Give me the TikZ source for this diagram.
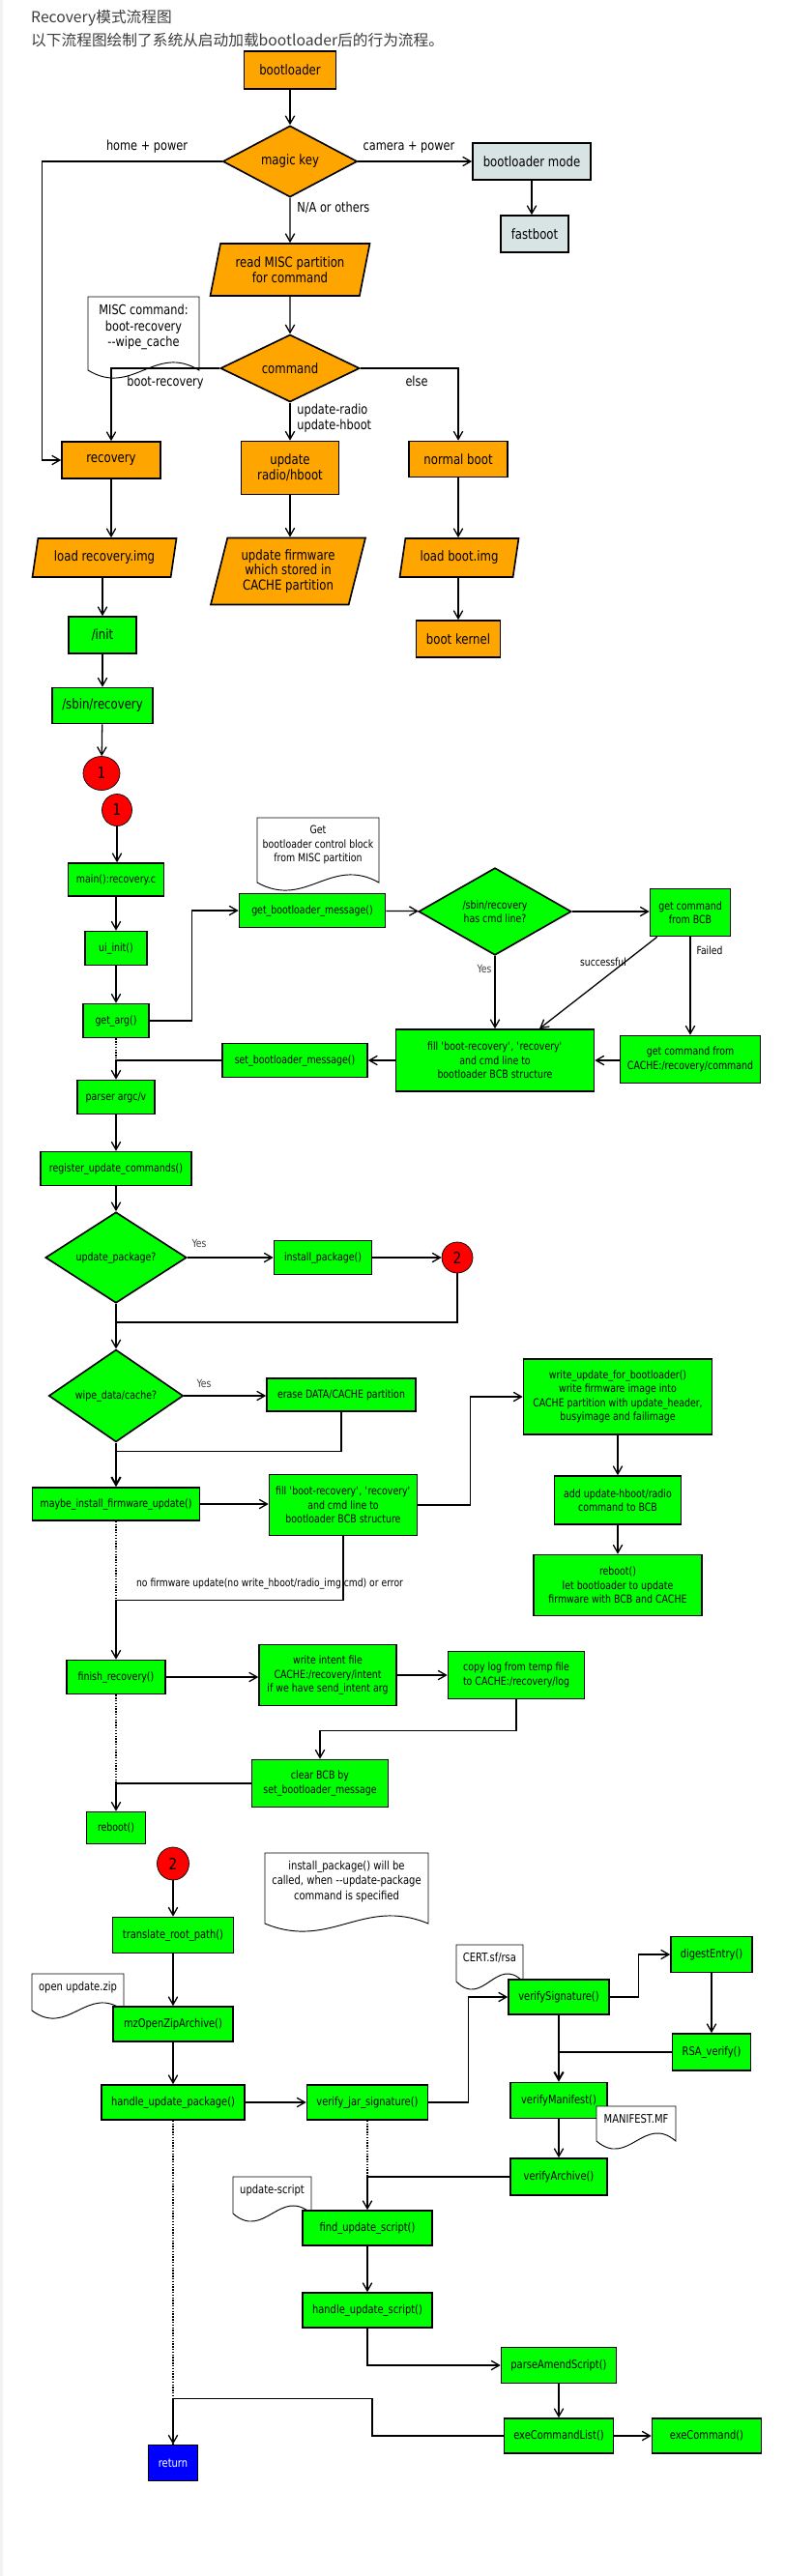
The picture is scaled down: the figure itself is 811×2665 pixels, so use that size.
\documentclass[tikz,border=0pt]{standalone}
\usepackage{fontspec}
\setmainfont{DejaVu Sans}[FakeStretch=0.82]
\newfontfamily\cjkfont{Noto Sans CJK SC}
\usetikzlibrary{arrows.meta,positioning,calc,shapes.geometric}
\definecolor{stepOrange}{HTML}{FFA500}
\definecolor{stepGreen}{HTML}{00FF00}
\definecolor{modeGray}{HTML}{D8E4E4}
\definecolor{endBlue}{HTML}{0000FF}
\definecolor{jumpRed}{HTML}{FF0000}
\definecolor{headGray}{HTML}{3C3C3C}

% straight single quotes
\newcommand{\sq}[1]{\textquotesingle#1\textquotesingle}
% note sheet with a wavy lower edge: [text style], name, left x, top y, width, height, text
\newcommand{\docnote}[7][]{%
  \filldraw[notebox] (#3,#4) -- ({#3+#5},#4) -- ({#3+#5},{#4+#6})
    .. controls ({#3+0.6*#5},{#4+#6-28}) and ({#3+0.4*#5},{#4+#6+28}) .. (#3,{#4+#6}) -- cycle;
  \node[notetext,#1] (#2) at ({#3+#5/2},{#4+7}) {#7};
}

\begin{document}
\begin{tikzpicture}[
    x=0.03cm, y=-0.03cm,
    >={Straight Barb[length=7pt,width=8pt]},
    wh/.style 2 args={minimum width={#1*0.03cm}, minimum height={#2*0.03cm}},
    box/.style={draw, line width=1.4pt, inner sep=1pt, align=center},
    obox/.style={box, fill=stepOrange, font=\fontsize{12.2}{13.4}\selectfont},
    mbox/.style={box, fill=modeGray, font=\fontsize{12.2}{13.4}\selectfont},
    gbox/.style={box, fill=stepGreen, font=\fontsize{9.8}{12.3}\selectfont},
    gboxL/.style={gbox, font=\fontsize{12.2}{13.4}\selectfont},
    gboxM/.style={gbox, font=\fontsize{10.3}{12.3}\selectfont},
    rbox/.style={box, fill=endBlue, text=white, font=\fontsize{10.3}{12.3}\selectfont},
    para/.style={trapezium, trapezium left angle=70, trapezium right angle=110,
                 trapezium stretches body},
    decide/.style={diamond, inner sep=0pt},
    jump/.style={ellipse, draw, line width=0.6pt, fill=jumpRed, inner sep=0pt,
                 font=\fontsize{14}{14}\selectfont},
    conn/.style={line width=1.1pt},
    arr/.style={conn,->},
    thickarr/.style={line width=1.7pt,->},
    dotline/.style={line width=0.9pt, dash pattern=on 1.2pt off 1.2pt},
    lblA/.style={inner sep=1pt, font=\fontsize{11.8}{13.6}\selectfont},
    lblB/.style={inner sep=1pt, font=\fontsize{9.6}{11.5}\selectfont},
    notebox/.style={draw, fill=white, line width=0.8pt},
    notetext/.style={anchor=north, inner sep=1pt, align=center,
                     font=\fontsize{9.8}{12.3}\selectfont},
    notebig/.style={font=\fontsize{11.8}{14}\selectfont},
    notemid/.style={font=\fontsize{10.4}{13}\selectfont},
    headtext/.style={anchor=west, inner sep=0pt, text=headGray,
                     font=\cjkfont\fontsize{13.4}{15}\selectfont},
]
\useasboundingbox (0,0) rectangle (811,2665);
\fill[gray!10] (0,0) rectangle (3,2665);

%-----------------------------------------------------------------------
% heading
\node[headtext] (title) at (32,18.5) {Recovery模式流程图};
\node[headtext] (subtitle) at (32,42) {以下流程图绘制了系统从启动加载bootloader后的行为流程。};

%-----------------------------------------------------------------------
% notes (drawn first, boxes sit on top)
\docnote[notebig]{nMisc}{91}{307}{115}{76}{MISC command:\\boot-recovery\\-{}-wipe\_cache}
\docnote{nBcb}{266}{846}{126}{67}{Get\\bootloader control block\\from MISC partition}
\docnote[notemid]{nInst}{274}{1917}{169}{73}{install\_package() will be\\called, when -{}-update-package\\command is specified}
\docnote[notemid]{nZip}{33}{2042}{95}{38}{open update.zip}
\docnote[notemid]{nCert}{472}{2012}{69}{38}{CERT.sf/rsa}
\docnote[notemid]{nScript}{241}{2252}{81}{38}{update-script}

%-----------------------------------------------------------------------
% bootloader part
\node[obox, wh={95}{39}] (boot) at (300,72.5) {bootloader};
\node[obox, decide, wh={139}{69}] (magic) at (300,167) {magic key};
\node[mbox, wh={122}{38}] (bmode) at (550,167) {bootloader mode};
\node[mbox, wh={70}{38}] (fastb) at (553,242) {fastboot};
\node[obox, para, wh={165}{54}] (readmisc) at (300,279) {read MISC partition\\for command};
\node[obox, decide, wh={144}{64}] (cmd) at (300,381) {command};
\node[obox, wh={102}{38}] (recov) at (115,476) {recovery};
\node[obox, wh={101}{55}] (radio) at (300,484) {update\\radio/hboot};
\node[obox, wh={102}{37}] (nboot) at (474,475) {normal boot};
\node[obox, para, wh={149}{40}] (loadrec) at (108,577) {load recovery.img};
\node[obox, para, wh={160}{69}] (upfw) at (298,591) {update firmware\\which stored in\\CACHE partition};
\node[obox, para, wh={123}{40}] (loadboot) at (475,577) {load boot.img};
\node[gboxL, wh={70}{38}] (init) at (106,657) {/init};
\node[obox, wh={87}{38}] (bkernel) at (474,661) {boot kernel};
\node[gboxL, wh={104}{37}] (sbin) at (106,730) {/sbin/recovery};
\node[jump, wh={38}{35}] (jmpA) at (105,800) {1};
\node[jump, wh={31}{33}] (jmpB) at (121,838) {1};

% labels
\node[lblA] (lHome) at (152,152) {home + power};
\node[lblA] (lCam) at (423,153) {camera + power};
\node[lblA, anchor=west] (lNA) at (306,215) {N/A or others};
\node[lblA] (lBootRec) at (171,396) {boot-recovery};
\node[lblA] (lElse) at (431,394) {else};
\node[lblA, anchor=west, align=left] (lRadio) at (306,433) {update-radio\\update-hboot};

%-----------------------------------------------------------------------
% recovery main()
\node[gbox, wh={99}{34}] (mainrc) at (120,910) {main():recovery.c};
\node[gbox, wh={64}{35}] (uiinit) at (120,981) {ui\_init()};
\node[gbox, wh={68}{35}] (getarg) at (120,1056) {get\_arg()};
\node[gbox, wh={151}{35}] (gbm) at (323,942) {get\_bootloader\_message()};
\node[gbox, decide, wh={158}{90}] (hascmd) at (512,943) {/sbin/recovery\\has cmd line?};
\node[gbox, wh={83}{49}] (bcb) at (714,944) {get command\\from BCB};
\node[gbox, wh={205}{64}] (fillA) at (512,1097) {fill \sq{boot-recovery}, \sq{recovery}\\and cmd line to\\bootloader BCB structure};
\node[gbox, wh={145}{49}] (cachecmd) at (714,1096) {get command from\\CACHE:/recovery/command};
\node[gbox, wh={150}{35}] (sbm) at (305,1097) {set\_bootloader\_message()};
\node[gbox, wh={80}{35}] (parser) at (120,1135) {parser argc/v};
\node[gbox, wh={156}{35}] (regcmd) at (120,1209) {register\_update\_commands()};
\node[gbox, decide, wh={146}{82}] (uppkg) at (120,1301) {update\_package?};
\node[gbox, wh={101}{35}] (instpkg) at (334,1301) {install\_package()};
\node[jump, wh={32}{32}] (jmpC) at (473,1301) {2};
\node[gbox, decide, wh={139}{92}] (wipe) at (120,1444) {wipe\_data/cache?};
\node[gbox, wh={154}{34}] (erase) at (353,1443) {erase DATA/CACHE partition};
\node[gbox, wh={195}{78}] (writeupd) at (639,1445) {write\_update\_for\_bootloader()\\write firmware image into\\CACHE partition with update\_header,\\busyimage and failimage};
\node[gbox, wh={173}{34}] (maybefw) at (120,1556) {maybe\_install\_firmware\_update()};
\node[gbox, wh={153}{63}] (fillB) at (355,1557) {fill \sq{boot-recovery}, \sq{recovery}\\and cmd line to\\bootloader BCB structure};
\node[gbox, wh={131}{50}] (addcmd) at (639,1552) {add update-hboot/radio\\command to BCB};
\node[gbox, wh={174}{63}] (rebootbl) at (639,1640) {reboot()\\let bootloader to update\\firmware with BCB and CACHE};
\node[gbox, wh={102}{35}] (finish) at (120,1735) {finish\_recovery()};
\node[gbox, wh={142}{63}] (intent) at (339,1733) {write intent file\\CACHE:/recovery/intent\\if we have send\_intent arg};
\node[gbox, wh={141}{49}] (copylog) at (534,1733) {copy log from temp file\\to CACHE:/recovery/log};
\node[gbox, wh={141}{49}] (clearbcb) at (331,1845) {clear BCB by\\set\_bootloader\_message};
\node[gbox, wh={61}{33}] (rbt) at (120,1891) {reboot()};

% labels
\node[lblB, text=black!75] (lYesA) at (501,1002) {Yes};
\node[lblB] (lSucc) at (624,995) {successful};
\node[lblB] (lFail) at (734,983) {Failed};
\node[lblB, text=black!75] (lYesB) at (206,1286) {Yes};
\node[lblB, text=black!75] (lYesC) at (211,1431) {Yes};
\node[lblB] (lNoFw) at (279,1639) {no firmware update(no write\_hboot/radio\_img cmd) or error};

%-----------------------------------------------------------------------
% install_package()
\node[jump, wh={33}{34}] (jmpD) at (179,1928) {2};
\node[gboxM, wh={125}{37}] (trans) at (179,2002) {translate\_root\_path()};
\node[gboxM, wh={124}{36}] (mzopen) at (179,2094) {mzOpenZipArchive()};
\node[gboxM, wh={148}{36}] (hup) at (179,2175) {handle\_update\_package()};
\node[gboxM, wh={125}{36}] (vjar) at (380,2175) {verify\_jar\_signature()};
\node[gboxM, wh={104}{36}] (vsig) at (578,2066) {verifySignature()};
\node[gboxM, wh={84}{37}] (digest) at (736,2022) {digestEntry()};
\node[gboxM, wh={81}{38}] (rsa) at (736,2123) {RSA\_verify()};
\node[gboxM, wh={100}{37}] (vman) at (578,2173) {verifyManifest()};
\docnote[notemid]{nManif}{617}{2179}{82}{36}{MANIFEST.MF}
\node[gboxM, wh={100}{38}] (varch) at (578,2252) {verifyArchive()};
\node[gboxM, wh={134}{36}] (findscr) at (380,2305) {find\_update\_script()};
\node[gboxM, wh={134}{36}] (hscr) at (380,2390) {handle\_update\_script()};
\node[gboxM, wh={119}{37}] (parse) at (578,2447) {parseAmendScript()};
\node[gboxM, wh={113}{36}] (exelist) at (578,2520) {exeCommandList()};
\node[gboxM, wh={113}{36}] (execmd) at (731,2520) {exeCommand()};
\node[rbox, wh={51}{37}] (ret) at (179,2548) {return};

%-----------------------------------------------------------------------
% connectors: bootloader part
\draw[arr] (boot) -- (magic);
\draw[arr] (magic.west) -| ($(recov.west)+(-20,0)$) -- (recov.west);
\draw[arr] (magic.east) -- (bmode.west);
\draw[arr] (bmode.south) -- (bmode.south |- fastb.north);
\draw[arr] (magic) -- (readmisc);
\draw[arr] (readmisc) -- (cmd);
\draw[arr] (cmd.west) -| (recov.north);
\draw[arr] (cmd.east) -| (nboot.north);
\draw[arr] (cmd) -- (radio);
\draw[arr] (recov.south) -- (recov.south |- loadrec.north);
\draw[arr] (init.north |- loadrec.south) -- (init.north);
\draw[arr] (radio.south) -- (radio.south |- upfw.north);
\draw[arr] (nboot.south) -- (nboot.south |- loadboot.north);
\draw[arr] (nboot.south |- loadboot.south) -- (bkernel.north);
\draw[arr] (init) -- (sbin);
\draw[arr] (sbin) -- (jmpA);

% connectors: recovery main()
\draw[arr] (jmpB.south) -- (jmpB.south |- mainrc.north);
\draw[arr] (mainrc) -- (uiinit);
\draw[arr] (uiinit) -- (getarg);
\draw[arr] (getarg.east) -| ($(gbm.west)+(-48,0)$) -- (gbm.west);
\draw[arr] (gbm) -- (hascmd);
\draw[arr] (hascmd.east) -- (hascmd.east -| bcb.west);
\draw[arr] (hascmd.south) -- (hascmd.south |- fillA.north);
\draw[arr] ($(bcb.south west)+(8,0)$) -- ($(fillA.north)+(46,0)$);
\draw[arr] (bcb.south) -- (bcb.south |- cachecmd.north);
\draw[arr] (cachecmd.west |- fillA.east) -- (fillA.east);
\draw[arr] (fillA.west) -- (fillA.west -| sbm.east);
\draw[arr] (sbm.west) -| (parser.north);
\draw[dotline] (getarg.south) -- (getarg.south |- sbm.west);
\draw[arr] (parser) -- (regcmd);
\draw[arr] (regcmd) -- (uppkg);
\draw[arr] (uppkg.east) -- (instpkg.west);
\draw[arr] (instpkg.east) -- (jmpC.west);
\coordinate (joinC) at ($(uppkg.south)+(0,19)$);
\draw[conn] (jmpC.south) |- (joinC);
\draw[conn] (uppkg.south) -- ($(uppkg.south)+(0,31)$);
\draw[arr] ($(wipe.north)+(0,-20)$) -- (wipe.north);
\draw[arr] (wipe.east) -- (wipe.east -| erase.west);
\draw[conn] (erase.south) |- ($(wipe.south)+(0,9)$);
\draw[thickarr] (wipe.south) -- (maybefw.north);
\draw[arr] (maybefw.east) -- (maybefw.east -| fillB.west);
\draw[arr] (fillB.east) -| ($(writeupd.west)+(-54,0)$) -- (writeupd.west);
\draw[arr] (writeupd) -- (addcmd);
\draw[arr] (addcmd) -- (rebootbl);
\coordinate (nofw) at ($(maybefw.south)+(0,82)$);
\draw[arr] (fillB.south) |- (nofw) -- (finish.north);
\draw[dotline] (maybefw.south) -- (nofw);
\draw[arr] (finish.east) -- (finish.east -| intent.west);
\draw[arr] (intent) -- (copylog);
\draw[arr] (copylog.south) -- ++(0,32) -| (clearbcb.north);
\draw[arr] (clearbcb.west) -| (rbt.north);
\draw[dotline] (finish.south) -- (finish.south |- clearbcb.west);

% connectors: install_package()
\draw[arr] (jmpD) -- (trans);
\draw[arr] (trans) -- (mzopen);
\draw[arr] (mzopen) -- (hup);
\draw[arr] (hup.east) -- (hup.east -| vjar.west);
\draw[arr] (vjar.east) -| ($(vsig.west)+(-41,0)$) -- (vsig.west);
\draw[arr] (vsig.east) -| ($(digest.west)+(-33,0)$) -- (digest.west);
\draw[arr] (digest) -- (rsa);
\draw[conn] (rsa.west) -- (rsa.west -| vsig.south);
\draw[conn] (vsig.south) -- (vsig.south |- rsa.west);
\draw[thickarr] (vsig.south |- rsa.west) -- (vman.north);
\draw[arr] (vman) -- (varch);
\draw[arr] (varch.west) -| (findscr.north);
\draw[dotline] (vjar.south) -- (vjar.south |- varch.west);
\draw[arr] (findscr) -- (hscr);
\draw[arr] (hscr.south) |- (parse.west);
\draw[arr] (parse) -- (exelist);
\draw[arr] (exelist.east) -- (exelist.east -| execmd.west);
\draw[arr] (exelist.west) -| ($(ret.north)+(206,-47)$) -| (ret.north);
\draw[dotline] (hup.south) -- (ret.north);

\end{tikzpicture}
\end{document}
